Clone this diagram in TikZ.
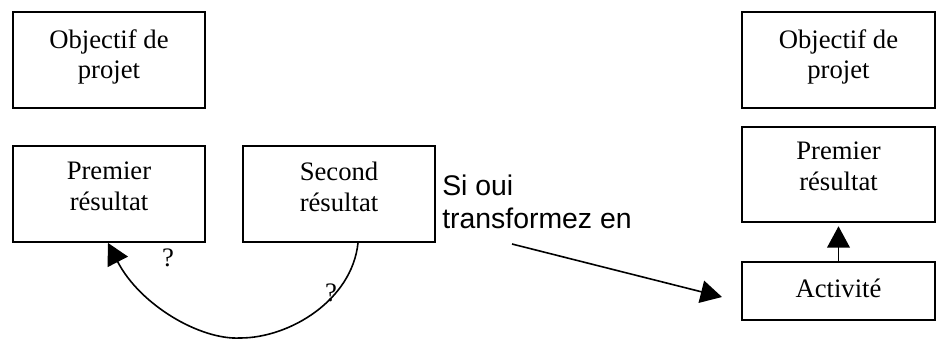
\documentclass[tikz,border=0pt]{standalone}
\usepackage{fontspec}
\setmainfont{Liberation Serif}
\newfontfamily\arialfont{Liberation Sans}
\usetikzlibrary{arrows.meta}
\begin{document}
\begin{tikzpicture}[x=0.75pt,y=-0.75pt,
  box/.style={draw, line width=1.4pt, minimum width=144pt, minimum height=72pt, inner sep=0pt},
  lbl/.style={font=\fontsize{20}{23}\selectfont, align=center, inner sep=0pt, anchor=north},
  qm/.style={font=\fontsize{20}{23}\selectfont, inner sep=0pt},
  sanslbl/.style={font=\arialfont\fontsize{21.3}{24.3}\selectfont, align=left, inner sep=0pt, anchor=north west},
  conn/.style={line width=1.2pt, -{Triangle[length=16pt,width=17pt]}}]
\useasboundingbox (0,0) rectangle (940,340);
% left group
\node[box] (o1) at (109,60) {};
\node[lbl] (o1t) at ([yshift=-13.5pt]o1.north) {Objectif de\\projet};
\node[box] (p1) at (109,194) {};
\node[lbl] (p1t) at ([yshift=-12.75pt]p1.north) {Premier\\résultat};
\node[box] (s2) at (339,194) {};
\node[lbl] (s2t) at ([yshift=-12.75pt]s2.north) {Second\\résultat};
% right group
\node[box, minimum width=144.75pt] (o3) at (838.5,60) {};
\node[lbl] (o3t) at ([yshift=-13.5pt]o3.north) {Objectif de\\projet};
\node[box, minimum width=144.75pt, minimum height=71.25pt] (p3) at (838.5,174.5) {};
\node[lbl] (p3t) at ([yshift=-12pt]p3.north) {Premier\\résultat};
\node[box, minimum width=144.75pt, minimum height=43.5pt] (a3) at (838.5,291) {};
\node[lbl] (a3t) at ([yshift=-13.5pt]a3.north) {Activité};
% texts
\node[sanslbl] (si) at (442,175) {Si oui\\transformez en};
\node[qm] (q1) at (168,258) {?};
\node[qm] (q2) at (331,293) {?};
% connectors
\coordinate (t0) at (512,244);
\coordinate (t1) at (722,297);
\draw[conn] (t0) -- (t1);
\draw[conn, shorten >=2.5pt] (a3.north) -- (p3.south);
\draw[conn] ([xshift=14.25pt]s2.south) .. controls (352,300) and (290,338) .. (240,338)
  .. controls (200,340) and (140,305) .. ([xshift=-0.75pt]p1.south);
\end{tikzpicture}
\end{document}
